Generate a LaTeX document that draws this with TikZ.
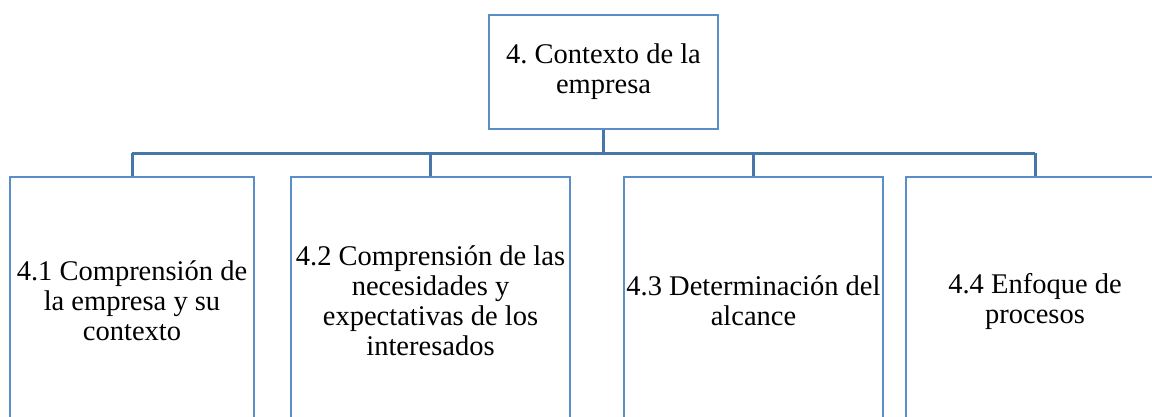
\documentclass[tikz,border=0pt]{standalone}
\usepackage{fontspec}
\setmainfont{Liberation Serif}
\frenchspacing
\definecolor{cajaazul}{RGB}{91,142,201}
\definecolor{enlaceazul}{RGB}{70,119,168}

\begin{document}
\begin{tikzpicture}[x=1pt, y=-1pt,
		caja/.style={draw=cajaazul, line width=2.6pt, align=center, inner sep=1pt,
			font=\fontsize{28.5}{30}\selectfont},
		hoja/.style={caja, minimum height=248pt},
		enlace/.style={draw=enlaceazul, line width=3pt}]
	\useasboundingbox (0,0) rectangle (1152,416);
	\clip (0,0) rectangle (1152,416);

	\node[caja, minimum width=229pt, minimum height=114pt] (contexto) at (603.5,72)
		{4. Contexto de la\\empresa};

	\node[hoja, minimum width=244pt] (comprension) at (132,301)
		{4.1 Comprensión de\\la empresa y su\\contexto};
	\node[hoja, minimum width=279pt] (necesidades) at (430.5,301)
		{4.2 Comprensión de las\\necesidades y\\expectativas de los\\interesados};
	\node[hoja, minimum width=259pt] (alcance) at (753.5,301)
		{4.3 Determinación del\\alcance};
	\node[hoja, minimum width=258pt] (enfoque) at (1035,301)
		{4.4 Enfoque de\\procesos};

	\coordinate (bus) at (0,153);
	\draw[enlace] (contexto.south) -- (contexto.south |- bus);
	\draw[enlace] (comprension.north |- bus) -- (enfoque.north |- bus);
	\foreach \hijo in {comprension, necesidades, alcance, enfoque}
		\draw[enlace] (\hijo.north |- bus) -- (\hijo.north);

\end{tikzpicture}
\end{document}
